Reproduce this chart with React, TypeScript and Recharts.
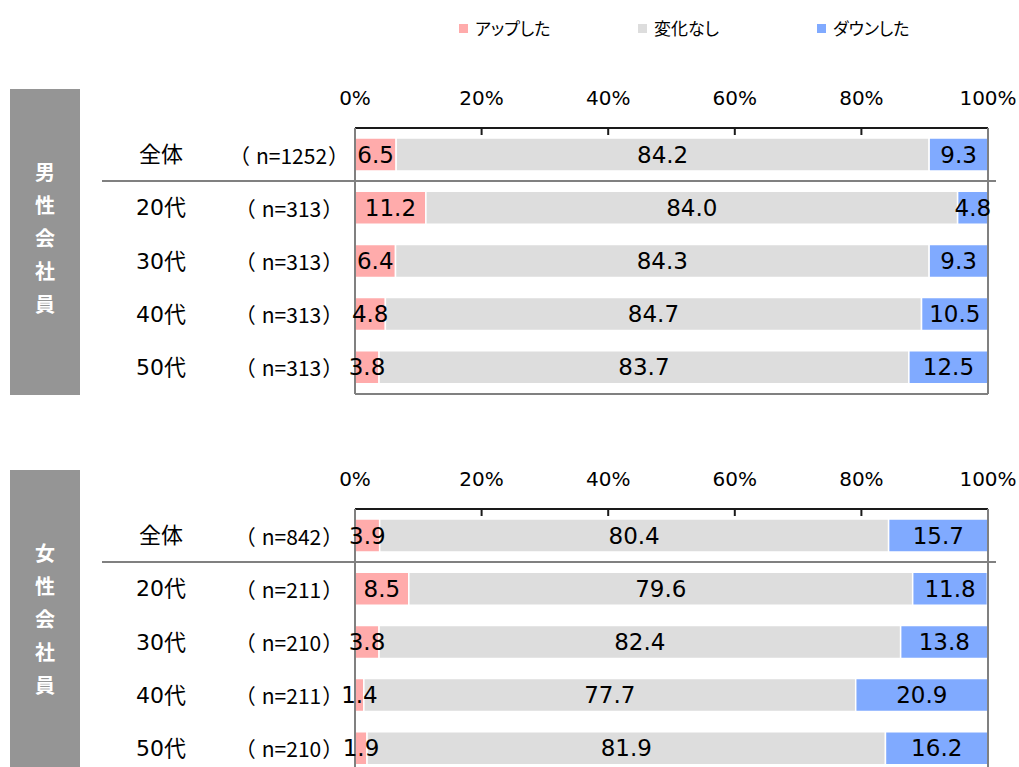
import { BarChart, Bar, XAxis, YAxis, LabelList } from "recharts";

const seriesNames = ["アップした", "変化なし", "ダウンした"];
const seriesKeys = ["up", "same", "down"];
const seriesColors = ["#FFABAB", "#DDDDDD", "#80AAFF"];

const ages = ["全体", "20代", "30代", "40代", "50代"];
const xTicks = [0, 20, 40, 60, 80, 100];

const maleTitle = "男性会社員";
const maleN = ["n=1252", "n=313", "n=313", "n=313", "n=313"];
const maleUp = [6.5, 11.2, 6.4, 4.8, 3.8];
const maleSame = [84.2, 84.0, 84.3, 84.7, 83.7];
const maleDown = [9.3, 4.8, 9.3, 10.5, 12.5];

const femaleTitle = "女性会社員";
const femaleN = ["n=842", "n=211", "n=210", "n=211", "n=210"];
const femaleUp = [3.9, 8.5, 3.8, 1.4, 1.9];
const femaleSame = [80.4, 79.6, 82.4, 77.7, 81.9];
const femaleDown = [15.7, 11.8, 13.8, 20.9, 16.2];

const NUM_FONT = "'DejaVu Sans', 'Noto Sans CJK JP', sans-serif";
const JP_FONT = "'Noto Sans CJK JP', sans-serif";

function CategoryTick(props: any) {
  const { y, payload, nLabels } = props;
  return (
    <g>
      <text x={161} y={y} textAnchor="middle" dominantBaseline="central" fontSize={22} fontFamily={NUM_FONT} fill="#000">
        {payload.value}
      </text>
      <text x={289} y={y} textAnchor="middle" dominantBaseline="central" fontSize={21} fontFamily={JP_FONT} fill="#000">
        <tspan>（</tspan>
        <tspan dx={6}>{nLabels[payload.index]}</tspan>
        <tspan dx={1}>）</tspan>
      </text>
    </g>
  );
}

function Panel(props: { top: number; title: string; n: string[]; up: number[]; same: number[]; down: number[] }) {
  const { top, title, n, up, same, down } = props;
  const data = ages.map((age, i) => ({ age, up: up[i], same: same[i], down: down[i] }));

  return (
    <>
      <div
        style={{
          position: "absolute",
          left: 10,
          top: top + 19,
          width: 70,
          height: 306,
          background: "#959595",
        }}
      >
        <div style={{ position: "absolute", top: 66, width: 70, textAlign: "center" }}>
          {title.split("").map((c, i) => (
            <div key={i} style={{ height: 33, lineHeight: "33px", fontSize: 20, fontWeight: 700, color: "#fff", fontFamily: JP_FONT }}>
              {c}
            </div>
          ))}
        </div>
      </div>
      <div style={{ position: "absolute", left: 0, top }}>
        <BarChart
          width={1019}
          height={340}
          layout="vertical"
          data={data}
          margin={{ top: 28, right: 30, bottom: 15, left: 0 }}
          barSize={33}
        >
          <XAxis
            type="number"
            orientation="top"
            domain={[0, 100]}
            allowDataOverflow
            ticks={xTicks}
            tickFormatter={(v: number) => `${v}%`}
            height={30}
            tickSize={-7}
            tickMargin={30}
            axisLine={{ stroke: "#1a1a1a", strokeWidth: 2 }}
            tickLine={{ stroke: "#1a1a1a", strokeWidth: 2 }}
            tick={{ fill: "#000", fontSize: 20, fontFamily: NUM_FONT }}
          />
          <XAxis
            xAxisId="b"
            type="number"
            orientation="bottom"
            domain={[0, 100]}
            height={1}
            tick={false}
            tickLine={false}
            axisLine={{ stroke: "#808080", strokeWidth: 2 }}
          />
          <YAxis
            type="category"
            dataKey="age"
            width={355}
            axisLine={{ stroke: "#808080", strokeWidth: 2 }}
            tickLine={false}
            tick={<CategoryTick nLabels={n} />}
          />
          <YAxis
            yAxisId="r"
            type="category"
            dataKey="age"
            orientation="right"
            width={1}
            tick={false}
            tickLine={false}
            axisLine={{ stroke: "#808080", strokeWidth: 2 }}
          />
          {seriesKeys.map((key, si) => (
            <Bar
              key={key}
              dataKey={key}
              name={seriesNames[si]}
              stackId="s"
              fill={seriesColors[si]}
              stroke="#fff"
              strokeWidth={1.5}
              isAnimationActive={false}
            >
              <LabelList
                dataKey={key}
                position="center"
                formatter={(v: any) => Number(v).toFixed(1)}
                style={{ fill: "#000", fontSize: 23, fontFamily: NUM_FONT }}
              />
            </Bar>
          ))}
        </BarChart>
      </div>
      <div
        style={{
          position: "absolute",
          left: 102,
          top: top + 109.5,
          width: 894,
          height: 2,
          background: "#808080",
        }}
      />
    </>
  );
}

function Legend() {
  const starts = [459, 638, 817];
  return (
    <>
      {seriesNames.map((name, i) => (
        <div key={name} style={{ position: "absolute", left: starts[i], top: 16, display: "flex", alignItems: "center" }}>
          <div style={{ width: 9, height: 9, background: seriesColors[i], marginRight: 7 }} />
          <span
            style={{
              fontSize: 17,
              fontFamily: JP_FONT,
              color: "#000",
              lineHeight: "24px",
              fontFeatureSettings: "'palt'",
            }}
          >
            {name}
          </span>
        </div>
      ))}
    </>
  );
}

export default function App() {
  return (
    <div
      style={{
        position: "absolute",
        left: 0,
        top: 0,
        width: 1019,
        height: 767,
        overflow: "hidden",
        background: "#fff",
      }}
    >
      <Legend />
      <Panel top={70} title={maleTitle} n={maleN} up={maleUp} same={maleSame} down={maleDown} />
      <Panel top={451} title={femaleTitle} n={femaleN} up={femaleUp} same={femaleSame} down={femaleDown} />
    </div>
  );
}
